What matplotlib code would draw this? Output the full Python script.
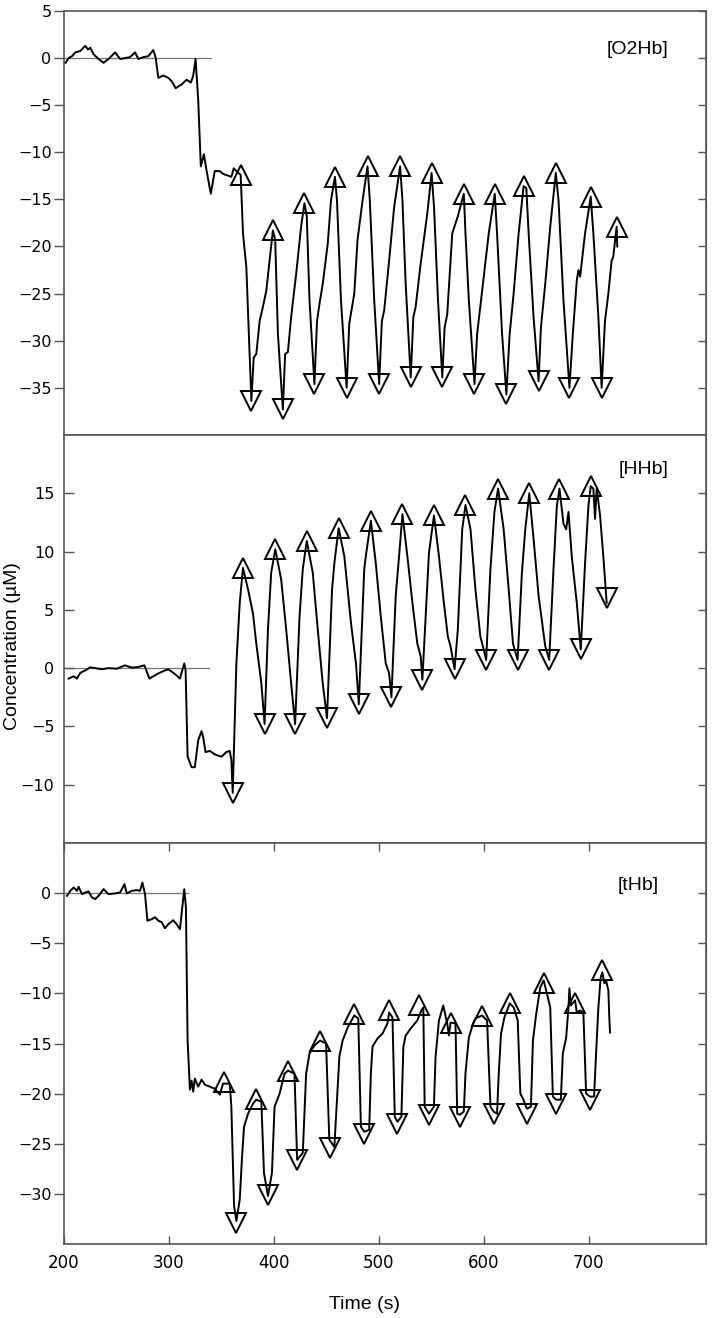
import matplotlib
matplotlib.use("Agg")
import matplotlib.pyplot as plt
import numpy as np

# [O2Hb] trace, (time s, concentration uM)
o2hb = [(201.5, -0.5), (204.4, 0.0), (207.6, 0.2), (210.8, 0.6), (215.5, 0.75), (220.3, 1.3), (222.8, 0.9),
        (225.0, 1.1), (228.2, 0.4), (232.9, -0.1), (237.7, -0.5), (242.4, -0.1), (248.7, 0.6), (253.5, -0.1),
        (258.2, 0.0), (263.0, 0.1), (267.7, 0.6), (270.9, -0.1), (275.7, 0.1), (280.4, 0.2), (285.1, 0.85),
        (287.4, 0.0), (289.9, -2.1), (294.7, -1.85), (299.4, -2.1), (302.6, -2.45), (306.4, -3.2), (312.1, -2.8),
        (316.8, -2.3), (320.9, -2.6), (323.1, -1.9), (325.4, -0.1), (327.9, -4.4), (330.4, -11.5), (333.3, -10.2),
        (335.8, -11.9), (339.9, -14.4), (343.7, -12.0), (348.5, -12.0), (351.6, -12.3), (359.5, -12.6),
        (361.8, -11.7), (364.3, -12.0), (368.4, -12.4), (370.6, -18.6), (373.8, -22.2), (378.6, -36.4),
        (380.8, -31.8), (383.3, -31.4), (386.5, -27.9), (389.6, -26.4), (392.8, -24.7), (399.1, -18.3),
        (401.3, -19.3), (403.9, -29.3), (408.6, -37.3), (410.8, -31.4), (413.4, -31.2), (416.5, -27.5),
        (421.3, -22.9), (426.0, -17.9), (429.2, -15.4), (431.4, -16.8), (434.0, -25.7), (438.7, -34.6),
        (441.2, -27.9), (443.5, -26.1), (446.6, -24.0), (451.4, -19.7), (454.5, -15.1), (458.3, -12.6),
        (460.2, -15.1), (464.0, -25.7), (469.4, -35.0), (471.9, -28.2), (476.7, -25.0), (479.8, -19.3),
        (484.6, -15.1), (489.3, -11.5), (491.5, -15.1), (495.7, -25.7), (500.4, -34.6), (503.0, -27.9),
        (505.2, -26.8), (509.9, -21.5), (514.7, -15.8), (520.4, -11.5), (522.6, -15.1), (525.7, -24.0),
        (530.5, -33.9), (533.0, -27.5), (535.2, -26.4), (540.0, -21.8), (546.3, -16.5), (550.4, -12.2),
        (552.7, -15.8), (556.5, -25.7), (560.6, -33.9), (562.8, -28.6), (565.3, -27.2), (570.1, -18.6),
        (574.2, -17.2), (575.4, -16.8), (581.1, -14.4), (582.7, -18.6), (585.9, -25.7), (591.3, -34.6),
        (593.8, -29.3), (598.6, -24.7), (604.9, -18.6), (610.6, -14.4), (612.8, -18.6), (617.6, -29.3),
        (621.7, -35.7), (624.8, -29.3), (628.6, -25.0), (633.4, -18.6), (638.1, -13.6), (640.7, -13.8),
        (642.9, -18.6), (647.6, -27.5), (652.4, -34.3), (654.6, -28.6), (658.7, -24.0), (663.5, -17.9),
        (668.8, -12.2), (671.4, -15.1), (676.1, -25.7), (681.8, -35.0), (685.0, -29.3), (688.8, -23.6),
        (690.4, -22.5), (692.0, -23.2), (696.7, -18.6), (702.1, -14.7), (704.6, -18.6), (709.4, -27.5),
        (712.5, -35.0), (715.7, -27.9), (718.9, -25.0), (722.0, -21.5), (723.6, -21.1), (726.8, -17.9),
        (727.4, -20.0)]
o2hb_peak_t = [368.4, 399.1, 429.2, 458.3, 489.3, 520.4, 550.4, 581.1, 610.6, 638.1, 668.8, 702.1, 726.8]
o2hb_peak_v = [-12.4, -18.3, -15.4, -12.6, -11.5, -11.5, -12.2, -14.4, -14.4, -13.6, -12.2, -14.7, -17.9]
o2hb_trough_t = [378.6, 408.6, 438.7, 469.4, 500.4, 530.5, 560.6, 591.3, 621.7, 652.4, 681.8, 712.5]
o2hb_trough_v = [-36.4, -37.3, -34.6, -35.0, -34.6, -33.9, -33.9, -34.6, -35.7, -34.3, -35.0, -35.0]

# [HHb] trace
hhb = [(204.4, -0.9), (209.2, -0.7), (212.3, -0.9), (215.5, -0.4), (220.3, -0.2), (225.0, 0.07), (229.7, 0.0),
       (236.1, -0.1), (242.4, 0.0), (250.3, -0.05), (258.2, 0.24), (264.6, 0.04), (270.9, 0.1), (276.6, 0.24),
       (281.4, -0.9), (285.2, -0.7), (289.9, -0.45), (296.2, -0.2), (299.4, -0.1), (305.7, -0.5), (310.5, -0.9),
       (314.6, 0.4), (315.9, -0.2), (317.8, -7.6), (321.6, -8.5), (324.7, -8.5), (327.9, -6.2), (331.1, -5.4),
       (332.6, -5.9), (334.9, -7.2), (339.0, -7.1), (343.7, -7.4), (350.1, -7.6), (354.8, -7.2), (358.0, -7.1),
       (359.5, -7.9), (360.8, -10.7), (364.3, 0.4), (367.5, 5.6), (370.6, 8.6), (375.4, 6.75), (380.1, 4.7),
       (383.3, 2.1), (388.1, -1.3), (391.2, -4.8), (394.4, 3.3), (397.5, 8.2), (401.4, 10.2), (407.0, 7.6),
       (411.8, 3.3), (416.5, -1.3), (420.3, -4.8), (424.5, 4.4), (427.6, 8.5), (431.4, 10.9), (437.1, 8.2),
       (441.9, 3.3), (446.6, -1.3), (450.7, -4.3), (455.5, 6.75), (457.7, 9.0), (461.8, 12.0), (467.2, 9.6),
       (473.5, 3.9), (478.3, 0.4), (481.0, -3.1), (486.2, 8.5), (487.7, 9.6), (492.5, 12.65), (497.2, 9.0),
       (502.0, 4.4), (506.7, 0.4), (509.9, -0.45), (512.1, -2.5), (516.2, 6.2), (519.4, 9.6), (522.6, 13.2),
       (527.3, 9.6), (532.1, 5.6), (536.8, 2.1), (540.0, 1.0), (541.6, -1.0), (544.7, 4.4), (547.9, 9.9),
       (552.7, 13.1), (557.4, 9.6), (562.1, 5.6), (565.9, 2.7), (568.5, 1.85), (572.3, -0.1), (575.4, 3.3),
       (579.6, 11.9), (582.7, 14.0), (587.5, 11.9), (592.2, 6.75), (596.9, 2.7), (600.1, 1.6), (602.4, 0.7),
       (606.5, 8.5), (610.3, 13.4), (613.8, 15.4), (619.1, 11.9), (623.9, 6.75), (628.0, 2.1), (632.4, 0.7),
       (636.5, 8.2), (639.7, 11.9), (643.5, 15.0), (647.6, 11.1), (652.4, 6.2), (658.7, 1.9), (662.5, 0.7),
       (666.6, 8.5), (669.8, 13.9), (672.3, 15.4), (676.1, 12.4), (678.7, 11.9), (680.9, 13.4), (684.0, 9.6),
       (688.8, 5.6), (692.6, 1.6), (696.7, 9.0), (699.9, 13.9), (702.1, 15.6), (704.6, 15.4), (706.2, 12.8),
       (707.8, 15.4), (711.0, 13.1), (714.1, 9.6), (717.3, 5.6)]
hhb_peak_t = [370.6, 401.4, 431.4, 461.8, 492.5, 522.6, 552.7, 582.7, 613.8, 643.5, 672.3, 702.1]
hhb_peak_v = [8.6, 10.2, 10.9, 12.0, 12.65, 13.2, 13.1, 14.0, 15.4, 15.0, 15.4, 15.6]
hhb_trough_t = [360.8, 391.2, 420.3, 450.7, 481.0, 512.1, 541.6, 572.3, 602.4, 632.4, 662.5, 692.6, 717.3]
hhb_trough_v = [-10.7, -4.8, -4.8, -4.3, -3.1, -2.5, -1.0, -0.1, 0.7, 0.7, 0.7, 1.6, 6.0]

# [tHb] trace
thb = [(202.8, -0.27), (206.0, 0.23), (209.2, 0.56), (212.3, 0.23), (213.9, 0.63), (217.1, -0.1), (220.3, 0.07),
       (223.4, 0.17), (226.6, -0.43), (229.7, -0.6), (232.9, -0.27), (237.7, 0.4), (242.4, -0.1), (248.7, -0.03),
       (253.5, 0.07), (257.6, 0.9), (259.8, -0.03), (264.6, 0.23), (269.3, 0.3), (272.5, 0.23), (274.7, 1.06),
       (277.2, -0.1), (279.5, -2.75), (283.6, -2.6), (286.7, -2.4), (289.9, -2.75), (293.1, -2.9), (296.2, -3.5),
       (299.4, -3.1), (304.1, -2.7), (307.3, -3.1), (310.5, -3.6), (314.6, 0.4), (316.2, -1.4), (317.8, -14.7),
       (320.0, -19.6), (321.6, -18.7), (323.1, -19.8), (324.7, -18.5), (327.9, -19.3), (331.1, -18.6),
       (334.2, -19.1), (339.0, -19.3), (343.7, -19.5), (348.5, -20.1), (351.6, -19.0), (358.0, -19.0),
       (359.5, -21.3), (362.1, -31.2), (364.3, -32.7), (367.5, -30.6), (369.7, -26.3), (371.6, -23.3),
       (375.4, -22.0), (380.1, -21.0), (383.3, -20.6), (388.1, -20.8), (390.6, -27.9), (394.4, -30.2),
       (398.2, -27.9), (400.7, -21.3), (405.5, -20.0), (410.2, -18.0), (413.4, -17.7), (419.7, -18.0),
       (422.2, -26.6), (427.6, -25.9), (430.8, -18.0), (434.0, -16.0), (438.7, -15.2), (444.1, -14.7),
       (449.8, -15.0), (452.9, -24.6), (457.7, -25.3), (462.5, -16.3), (465.6, -14.7), (470.4, -13.4),
       (476.7, -12.2), (480.5, -12.5), (483.0, -23.3), (486.2, -23.8), (490.9, -23.6), (492.5, -18.0),
       (494.1, -15.3), (498.8, -14.5), (503.6, -14.0), (508.3, -13.0), (509.9, -11.9), (513.1, -12.4),
       (515.3, -22.3), (517.8, -22.8), (521.6, -22.3), (523.5, -15.3), (525.7, -14.2), (530.5, -13.5),
       (536.8, -12.7), (540.6, -11.7), (542.5, -11.4), (543.8, -21.3), (547.9, -22.0), (552.6, -21.3),
       (554.2, -16.3), (557.4, -12.7), (561.5, -11.2), (565.3, -13.0), (566.9, -14.2), (568.5, -12.9),
       (573.2, -13.0), (574.8, -22.0), (577.3, -22.1), (581.1, -21.8), (582.7, -18.0), (585.9, -14.4),
       (590.0, -13.0), (592.2, -12.5), (598.5, -12.2), (603.3, -12.7), (606.5, -21.3), (609.6, -21.8),
       (612.8, -22.0), (614.4, -18.0), (616.6, -14.0), (619.8, -12.4), (624.9, -11.0), (628.7, -11.4),
       (632.5, -12.7), (635.0, -20.0), (637.5, -20.5), (641.3, -21.5), (645.1, -21.3), (647.0, -14.7),
       (650.2, -12.0), (654.0, -9.4), (657.2, -8.7), (660.3, -10.0), (663.5, -11.4), (666.0, -20.3),
       (669.2, -20.6), (673.6, -20.6), (675.5, -16.0), (678.7, -14.4), (680.9, -11.4), (681.8, -9.5),
       (683.1, -11.2), (687.2, -10.7), (688.8, -11.9), (692.0, -11.7), (695.1, -11.9), (697.7, -20.0),
       (701.5, -20.3), (705.3, -20.3), (707.2, -16.0), (709.4, -11.4), (711.6, -8.4), (713.2, -7.9),
       (715.1, -9.0), (716.7, -8.7), (718.9, -9.7), (719.8, -12.4), (720.5, -13.9)]
thb_peak_t = [352.6, 383.3, 413.4, 444.1, 476.7, 509.9, 538.4, 568.5, 598.5, 624.9, 657.2, 687.2, 713.2]
thb_peak_v = [-18.8, -20.5, -17.7, -14.7, -12.1, -11.7, -11.2, -13.0, -12.3, -11.0, -9.0, -11.0, -7.7]
thb_trough_t = [364.3, 394.4, 422.2, 453.9, 486.2, 517.8, 547.9, 577.3, 609.6, 641.3, 669.2, 701.5]
thb_trough_v = [-32.9, -30.1, -26.6, -25.4, -24.0, -23.0, -22.1, -22.3, -22.0, -22.0, -21.0, -20.6]

labels = ["[O2Hb]", "[HHb]", "[tHb]"]
ylims = [(-40, 5), (-15, 20), (-35, 5)]
yticks = [range(-35, 6, 5), range(-10, 16, 5), range(-30, 1, 5)]
baseline_end = [340, 338, 318]   # end of the thin zero reference line (s)
xticks = [200, 300, 400, 500, 600, 700]

series = [o2hb, hhb, thb]
peaks = [(o2hb_peak_t, o2hb_peak_v), (hhb_peak_t, hhb_peak_v), (thb_peak_t, thb_peak_v)]
troughs = [(o2hb_trough_t, o2hb_trough_v), (hhb_trough_t, hhb_trough_v), (thb_trough_t, thb_trough_v)]

fig = plt.figure(figsize=(7.13, 13.18), dpi=100)
# [left, bottom, width, height] of the three stacked panels
boxes = [[0.0898, 0.6700, 0.9004, 0.3217],
         [0.0898, 0.3604, 0.9004, 0.3096],
         [0.0898, 0.0561, 0.9004, 0.3043]]
label_pos = [(0.893, 0.910), (0.903, 0.916), (0.895, 0.895)]
spine_col = "#555555"

for i in range(3):
    ax = fig.add_axes(boxes[i])
    t, v = np.array(series[i]).T
    ax.plot([200, baseline_end[i]], [0, 0], color="#777777", lw=0.9, zorder=1)
    ax.plot(t, v, color="black", lw=1.4, zorder=2)
    ax.plot(peaks[i][0], peaks[i][1], linestyle="none", marker="^", ms=14.5,
            mfc="none", mec="black", mew=1.4, zorder=3)
    ax.plot(troughs[i][0], troughs[i][1], linestyle="none", marker="v", ms=14.5,
            mfc="none", mec="black", mew=1.4, zorder=3)
    ax.set_xlim(200, 812)
    ax.set_ylim(*ylims[i])
    ax.set_yticks(list(yticks[i]))
    for s in ax.spines.values():
        s.set_color(spine_col)
        s.set_linewidth(1.2)
    ydir = "in" if i == 1 else "out"
    ypad = 7 if i == 1 else 2
    ax.tick_params(axis="y", direction=ydir, length=7, width=1, color=spine_col,
                   labelsize=11.5, pad=ypad)
    for lab in ax.get_yticklabels():
        lab.set_family("DejaVu Sans")
    # inward ticks on the right frame, no labels
    sec = ax.secondary_yaxis("right")
    sec.set_yticks(list(yticks[i]))
    sec.tick_params(direction="in", length=6, width=1, color=spine_col, labelright=False)
    sec.spines["right"].set_color(spine_col)
    if i == 2:
        ax.set_xticks(xticks)
        ax.tick_params(axis="x", direction="in", length=6, width=1, color=spine_col,
                       top=True, labelsize=12, pad=7)
    else:
        ax.set_xticks([])
    ax.text(label_pos[i][0], label_pos[i][1], labels[i], transform=ax.transAxes,
            ha="center", va="center", fontsize=14, family="Liberation Sans")

fig.text(0.017, 0.51, "Concentration (\u00b5M)", rotation=90, ha="center", va="center",
         fontsize=14, family="Liberation Sans")
fig.text(0.511, 0.0106, "Time (s)", ha="center", va="center", fontsize=14, family="Liberation Sans")

fig.savefig("out.png", dpi=100)
